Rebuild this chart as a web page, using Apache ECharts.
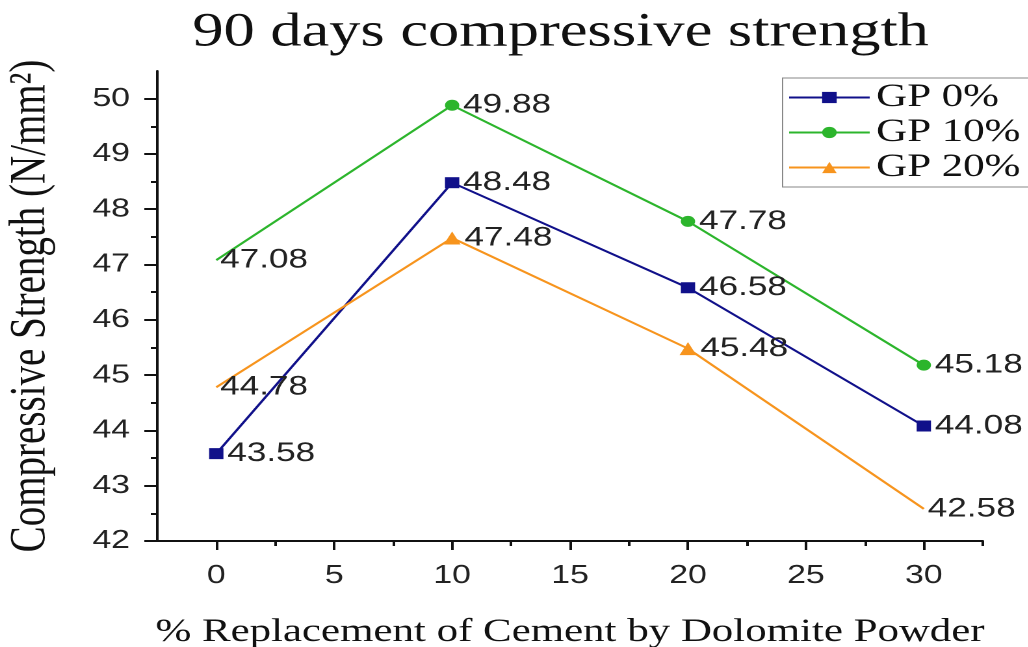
<!DOCTYPE html>
<html>
<head>
<meta charset="utf-8">
<title>90 days compressive strength</title>
<script src="https://cdn.jsdelivr.net/npm/echarts@6/dist/echarts.min.js"></script>
<style>
  html, body { margin: 0; padding: 0; background: #fff; overflow: hidden; }
  /* the source picture is stretched sideways, so draw narrow and stretch */
  #container { width: 791px; height: 647px; transform: scaleX(1.3); transform-origin: 0 0; }
</style>
</head>
<body>
<div id="container"></div>
<script>
var xValues = [0, 10, 20, 30];
var gp0 = [43.58, 48.48, 46.58, 44.08];
var gp10 = [47.08, 49.88, 47.78, 45.18];
var gp20 = [44.78, 47.48, 45.48, 42.58];
var seriesNames = ['GP 0%', 'GP 10%', 'GP 20%'];

var xTicks = [0, 5, 10, 15, 20, 25, 30];
var xMinorTicks = [2.5, 7.5, 12.5, 17.5, 22.5, 27.5, 32.5];
var yTicks = [42, 43, 44, 45, 46, 47, 48, 49, 50];
var yMinorTicks = [42.5, 43.5, 44.5, 45.5, 46.5, 47.5, 48.5, 49.5];

// points drawn without a marker in the original
var noMarker = { 'GP 0%': [], 'GP 10%': [0], 'GP 20%': [0, 3] };

var dom = document.getElementById('container');
var myChart = echarts.init(dom, null, { renderer: 'canvas', devicePixelRatio: 2 });

var serif = '"Liberation Serif", "Times New Roman", serif';
var sans = '"Liberation Sans", Arial, sans-serif';

function makeData(name, ys) {
  return ys.map(function (y, i) {
    var item = { value: [xValues[i], y] };
    if (noMarker[name].indexOf(i) >= 0) {
      item.symbolSize = 0;
    }
    return item;
  });
}

function makeSeries(name, ys, color, symbol, size) {
  return {
    name: name,
    type: 'line',
    xAxisIndex: 0,
    yAxisIndex: 0,
    data: makeData(name, ys),
    symbol: symbol,
    symbolSize: size,
    showAllSymbol: true,
    color: color,
    lineStyle: { width: 2, color: color },
    itemStyle: { color: color },
    label: {
      show: true,
      position: 'right',
      distance: 3,
      color: '#222',
      fontFamily: sans,
      fontSize: 27,
      formatter: function (p) { return p.value[1].toFixed(2); }
    },
    animation: false
  };
}

var option = {
  backgroundColor: '#fff',
  title: {
    text: '90 days compressive strength',
    left: 143,
    top: 4,
    textStyle: { fontFamily: serif, fontSize: 48, fontWeight: 'normal', color: '#111' }
  },
  legend: {
    orient: 'vertical',
    left: 602,
    top: 78,
    padding: [3, 30, 3, 4],
    itemWidth: 62,
    itemHeight: 14,
    itemGap: 2,
    borderColor: '#888',
    borderWidth: 1,
    textStyle: { fontFamily: serif, fontSize: 33, color: '#111', lineHeight: 31 },
    data: seriesNames
  },
  grid: { left: 121, right: 35, top: 71, bottom: 106, containLabel: false, outerBoundsMode: 'none' },
  xAxis: [
    {
      type: 'value',
      min: -2.5,
      max: 32.5,
      name: '% Replacement of Cement by Dolomite Powder',
      nameLocation: 'middle',
      nameGap: 75,
      nameTextStyle: { fontFamily: serif, fontSize: 33, color: '#111' },
      axisLine: { show: true, onZero: false, lineStyle: { color: '#111', width: 2 } },
      axisTick: { show: true, customValues: xTicks, length: 9, lineStyle: { color: '#111', width: 2 } },
      axisLabel: { customValues: xTicks, margin: 22, fontFamily: sans, fontSize: 26, color: '#222' },
      splitLine: { show: false }
    },
    {
      type: 'value',
      position: 'bottom',
      min: -2.5,
      max: 32.5,
      axisLine: { show: false, onZero: false },
      axisTick: { show: true, customValues: xMinorTicks, length: 5, lineStyle: { color: '#111', width: 2 } },
      axisLabel: { show: false },
      splitLine: { show: false }
    }
  ],
  yAxis: [
    {
      type: 'value',
      min: 42,
      max: 50.5,
      name: 'Compressive Strength (N/mm²)',
      nameLocation: 'middle',
      nameGap: 78,
      nameTextStyle: { fontFamily: serif, fontSize: 39, color: '#111' },
      axisLine: { show: true, onZero: false, lineStyle: { color: '#111', width: 2 } },
      axisTick: { show: true, customValues: yTicks, length: 10, lineStyle: { color: '#111', width: 2 } },
      axisLabel: { customValues: yTicks, margin: 21, fontFamily: sans, fontSize: 26, color: '#222' },
      splitLine: { show: false }
    },
    {
      type: 'value',
      position: 'left',
      min: 42,
      max: 50.5,
      axisLine: { show: false, onZero: false },
      axisTick: { show: true, customValues: yMinorTicks, length: 5, lineStyle: { color: '#111', width: 2 } },
      axisLabel: { show: false },
      splitLine: { show: false }
    }
  ],
  tooltip: { show: false },
  series: [
    makeSeries(seriesNames[0], gp0, '#10108a', 'rect', 11),
    makeSeries(seriesNames[1], gp10, '#2cb52c', 'circle', 11),
    makeSeries(seriesNames[2], gp20, '#f7941d', 'triangle', 13)
  ]
};

if (option && typeof option === 'object') {
  myChart.setOption(option);
}

window.addEventListener('resize', myChart.resize);
</script>
</body>
</html>
